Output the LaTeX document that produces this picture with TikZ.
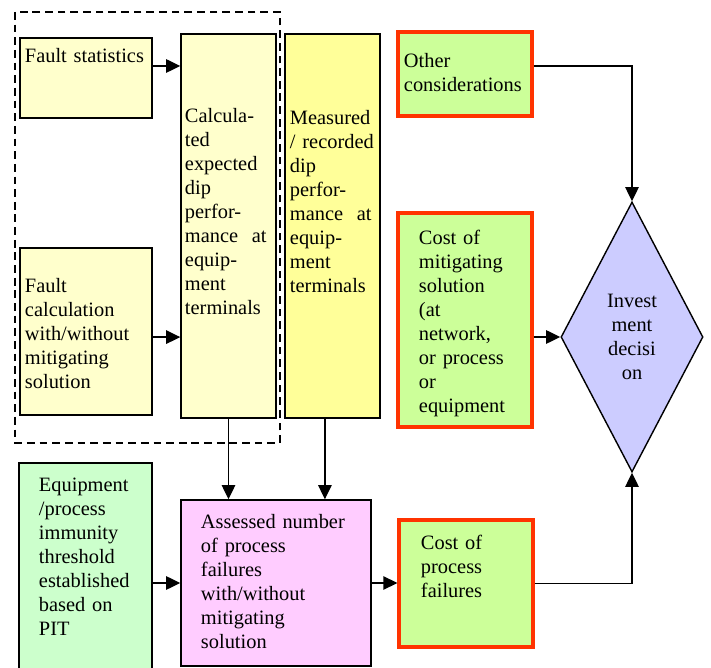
\documentclass[tikz,border=0pt]{standalone}
\usepackage{fontspec}
\setmainfont{Liberation Serif}
\usepackage{xcolor}
\usepackage{tikz}
\usetikzlibrary{arrows.meta, shapes.geometric}
\definecolor{paleyellow}{HTML}{FFFFCC}
\definecolor{dipyellow}{HTML}{FFFF99}
\definecolor{costgreen}{HTML}{CCFF99}
\definecolor{costred}{HTML}{FF3300}
\definecolor{pitgreen}{HTML}{CCFFCC}
\definecolor{failpink}{HTML}{FFCCFF}
\definecolor{decblue}{HTML}{CCCCFF}
\newcommand{\blkfont}{\fontsize{14.5pt}{17pt}\selectfont\hyphenpenalty=10000\exhyphenpenalty=10000}
\tikzset{every node/.append style={font=\blkfont},
  blk/.style={draw, line width=1pt, align=left, inner ysep=0pt},
  costblk/.style={blk, draw=costred, line width=2.2pt, fill=costgreen},
  link/.style={line width=1pt}}

\begin{document}
\begin{tikzpicture}[x=0.025cm, y=-0.025cm, >={Triangle[length=10pt, width=9.5pt]}]
    \clip (0,0) rectangle (711,668);
    \draw[line width=1.5pt, dash pattern=on 5.5pt off 3.5pt] (15,12) rectangle (280,443);
    \node[blk, fill=paleyellow, inner xsep=0.125cm, text width=3.05cm, text height=0.62cm, text depth=1.38cm] (fstat) at (86,78) {Fault statistics};
    \node[blk, fill=paleyellow, inner xsep=0.125cm, text width=3.05cm, text height=1.125cm, text depth=3.05cm] (fcalc) at (86,331.5) {Fault\\calculation\\with/without\\mitigating\\solution};
    \node[blk, fill=paleyellow, inner xsep=0.1cm, text width=2.175cm, text height=2.22cm, text depth=7.38cm] (calc) at (228.5,226) {Calcula-\\ted\\expected\\dip\\perfor-\\mance\ \ at\\equip-\\ment\\terminals};
    \node[blk, fill=dipyellow, inner xsep=0.125cm, text width=2.125cm, text height=2.275cm, text depth=7.325cm] (meas) at (332.5,226) {Measured\\/~recorded\\dip\\perfor-\\mance\ \ at\\equip-\\ment\\terminals};
    \node[costblk, inner xsep=0.15cm, text width=3.05cm, text height=0.9cm, text depth=1.2cm] (other) at (465,74) {Other\\considerations};
    \node[costblk, inner xsep=0.525cm, text width=2.3cm, text height=0.8cm, text depth=4.55cm] (costmit) at (465,320) {Cost~of\\mitigating\\solution\\(at\\network,\\or~process\\or\\equipment};
    \node[draw, line width=1pt, fill=decblue, diamond, aspect=0.5, inner sep=0pt, align=center, minimum width=3.55cm, minimum height=6.75cm] (dec) at (632,337) {Invest\\ment\\decisi\\on};
    \node[blk, fill=pitgreen, inner xsep=0.5cm, text width=2.325cm, text height=0.72cm, text depth=5.205cm] (equip) at (85.5,581.5) {Equipment\\/process\\immunity\\threshold\\established\\based~on\\PIT};
    \node[blk, fill=failpink, inner xsep=0.5cm, text width=3.75cm, text height=0.725cm, text depth=3.425cm] (assess) at (276,583) {Assessed~number\\of~process\\failures\\with/without\\mitigating\\solution};
    \node[costblk, inner xsep=0.55cm, text width=2.25cm, text height=0.75cm, text depth=2.425cm] (costproc) at (466,583.5) {Cost~of\\process\\failures};
    \draw[link, ->] ([yshift=0.3cm]fstat.east) -- ([yshift=0.3cm]fstat.east -| calc.west);
    \draw[link, ->] ([yshift=-0.14cm]fcalc.east) -- ([yshift=-0.14cm]fcalc.east -| calc.west);
    \draw[link, ->] ([yshift=0.2cm]other.east) -| (dec.north);
    \draw[link, ->] (costmit.east |- dec.west) -- (dec.west);
    \draw[link, ->] (calc.south) -- (calc.south |- assess.north);
    \draw[link, ->] ([xshift=-0.19cm]meas.south) -- ([xshift=-0.19cm]meas.south |- assess.north);
    \draw[link, ->] (equip.east |- assess.west) -- (assess.west);
    \draw[link, ->] (assess.east) -- (assess.east -| costproc.west);
    \draw[link, ->] (costproc.east) -| (dec.south);
\end{tikzpicture}
\end{document}
